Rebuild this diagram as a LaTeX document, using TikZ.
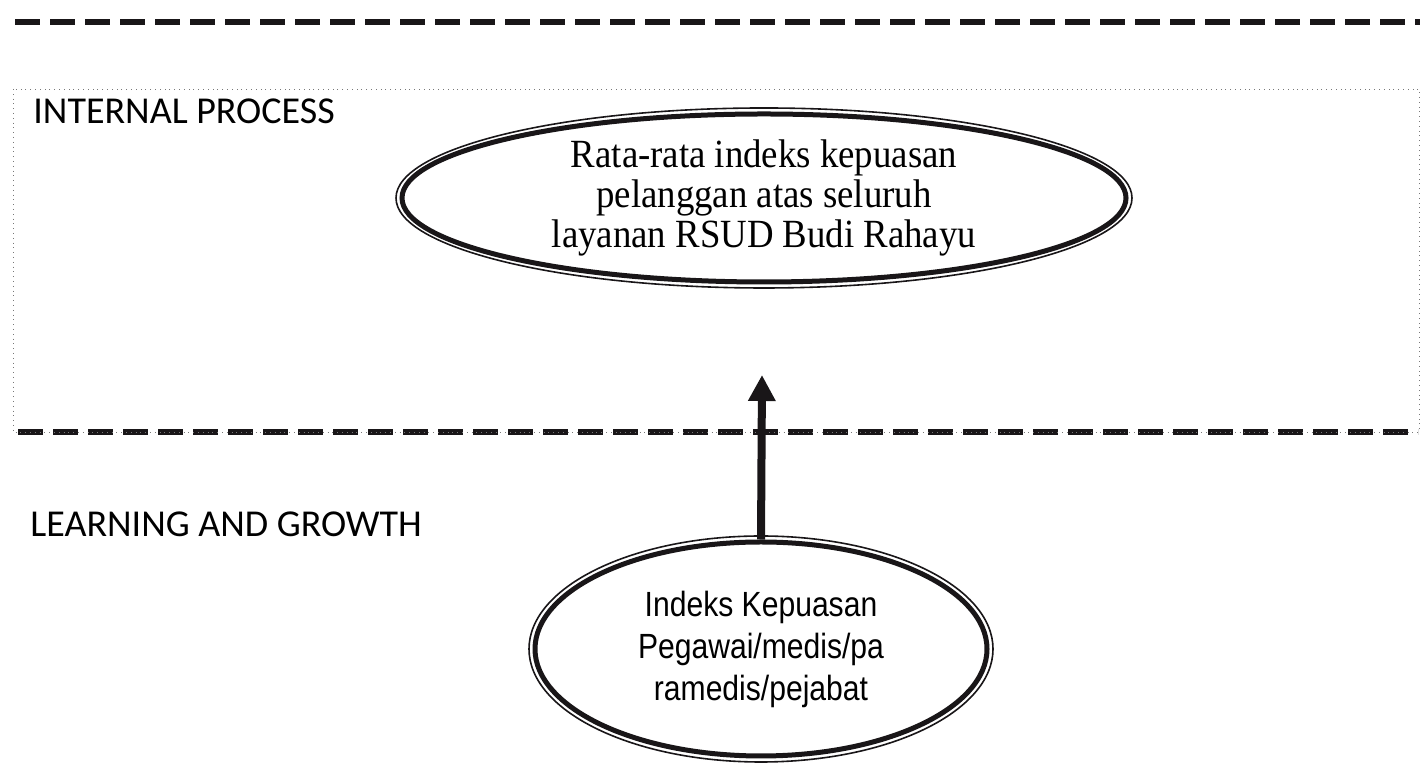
\documentclass[tikz,border=0pt]{standalone}
\usepackage{fontspec}
\usepackage{tikz}
\usetikzlibrary{shapes.geometric,arrows.meta,positioning}
\setmainfont{Liberation Serif}
\newfontfamily\goalfont[FakeStretch=0.92]{Liberation Serif}
\newfontfamily\headfont{Carlito}
\newfontfamily\narrowfont[FakeStretch=0.86]{Liberation Sans}
\definecolor{InkBlack}{RGB}{25,22,24}
\definecolor{BoxGray}{RGB}{120,120,120}

\begin{document}
\begin{tikzpicture}[x=0.5pt,y=0.5pt,
  goal/.style={ellipse,draw=InkBlack,line width=2.5pt,inner sep=0pt,align=center},
  ring/.style={draw=InkBlack,line width=0.8pt},
  sepline/.style={InkBlack,line width=3pt,dash pattern=on 12.5pt off 5pt},
  head/.style={font=\headfont\fontsize{19}{22}\selectfont,anchor=base west,inner sep=0pt}]
\useasboundingbox(0,0)rectangle(1423,769);
% perspective separators
\draw[sepline](15,747)--(1420,747);
\draw[sepline](18,337)--(1418,337);
\draw[BoxGray,dotted,thin](13,680)rectangle(1419,337);
% perspective labels
\node[head](ipLabel)at(33,645){INTERNAL PROCESS};
\node[head](lgLabel)at(30,232){LEARNING AND GROWTH};
% internal process goal
\node[goal,minimum width=362pt,minimum height=84pt,font=\goalfont\fontsize{20}{19.8}\selectfont]
  (ipGoal)at(764,571){Rata-rata indeks kepuasan\\pelanggan atas seluruh\\layanan RSUD Budi Rahayu};
\draw[ring](ipGoal.center)ellipse[x radius=184pt,y radius=45pt];
% learning and growth goal
\node[goal,minimum width=226pt,minimum height=107pt,font=\narrowfont\fontsize{17.5}{21}\selectfont]
  (lgGoal)at(761,120){Indeks Kepuasan\\Pegawai/medis/pa\\ramedis/pejabat};
\draw[ring](lgGoal.center)ellipse[x radius=116pt,y radius=56.5pt];
% cause-effect link
\coordinate(ipTip)at(762,394);
\draw[InkBlack,line width=4pt,-{Triangle[length=13pt,width=13pt]}](lgGoal.north)--(ipTip);
\end{tikzpicture}
\end{document}
